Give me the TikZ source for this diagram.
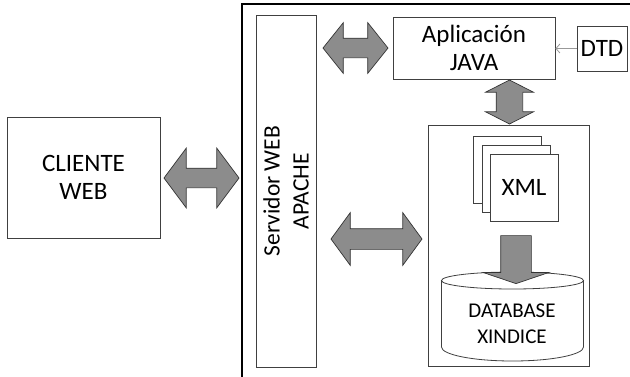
\documentclass[tikz,border=0pt]{standalone}
\usepackage{fontspec}
\setmainfont{Carlito}
\usetikzlibrary{arrows.meta,shapes.arrows,positioning}

\begin{document}
\begin{tikzpicture}[x=1pt,y=-1pt,
	box/.style={draw=black!75, line width=0.8pt, fill=white, inner sep=0pt, align=center, font=\fontsize{25}{28}\selectfont},
	dblarrow/.style={double arrow, draw=black!80, fill=black!45, line width=0.7pt, inner sep=#1, minimum width=0pt},
	sglarrow/.style={single arrow, draw=black!80, fill=black!45, line width=0.7pt, inner sep=#1, minimum width=0pt}
	]
		\useasboundingbox (0,0) rectangle (630,376);
		\clip (0,0) rectangle (630,376);
		\draw [line width=1.3pt] (242,4) rectangle (660,400);
		% cajas
		\node [box, minimum width=153pt, minimum height=121pt] (cliente) at (83.5,177.5) {CLIENTE\\WEB};
		\node [box, minimum width=60pt, minimum height=352pt] (servidor) at (286,191) {};
		\node [rotate=90, align=center, font=\fontsize{23.5}{29}\selectfont] (servidortxt) at (servidor.center) {Servidor WEB\\APACHE};
		\node [box, minimum width=162pt, minimum height=62pt] (java) at (474,48) {Aplicación\\JAVA};
		\node [box, minimum width=50pt, minimum height=45pt] (dtd) at (602,48.5) {DTD};
		\node [box, minimum width=161pt, minimum height=241pt] (xindice) at (508.5,245.5) {};
		\node [box, minimum width=68pt, minimum height=67pt] (xmlc) at (507.5,170) {};
		\node [box, minimum width=68pt, minimum height=67pt] (xmlb) at (516,179) {};
		\node [box, minimum width=68pt, minimum height=67pt] (xmla) at (524,187.5) {XML};
		% base de datos
		\draw [draw=black!75, line width=0.8pt, fill=white] (441.5,280.5) -- (441.5,347) arc[start angle=180, end angle=0, x radius=71, y radius=14] -- (583.5,280.5);
		\draw [draw=black!75, line width=0.8pt, fill=white] (512.5,280.5) ellipse[x radius=71, y radius=8.5];
		\node [align=center, font=\fontsize{21}{26}\selectfont] (database) at (512,324) {DATABASE\\XINDICE};
		% flechas
		\node [dblarrow=9.5pt, double arrow head extend=20pt, double arrow tip angle=106.6, minimum height=75pt] (a1) at (201.5,178) {};
		\node [dblarrow=9.5pt, double arrow head extend=15.5pt, double arrow tip angle=102.7, minimum height=65pt] (a2) at (355.5,48) {};
		\node [dblarrow=10pt, double arrow head extend=16pt, double arrow tip angle=107.7, minimum height=91pt] (a3) at (376.5,239) {};
		\node [dblarrow=13pt, double arrow head extend=10.5pt, double arrow tip angle=125.9, minimum height=44pt, shape border rotate=90] (a4) at (509.5,102) {};
		\node [sglarrow=15pt, single arrow head extend=17.5pt, single arrow tip angle=142.6, minimum height=48pt, shape border rotate=270] (a5) at (516,257) {};
		\draw [draw=black!40, line width=0.8pt, -{Straight Barb[length=4pt,width=9pt]}] (dtd.west) -- (java.east |- dtd.west);
	\end{tikzpicture}
\end{document}
